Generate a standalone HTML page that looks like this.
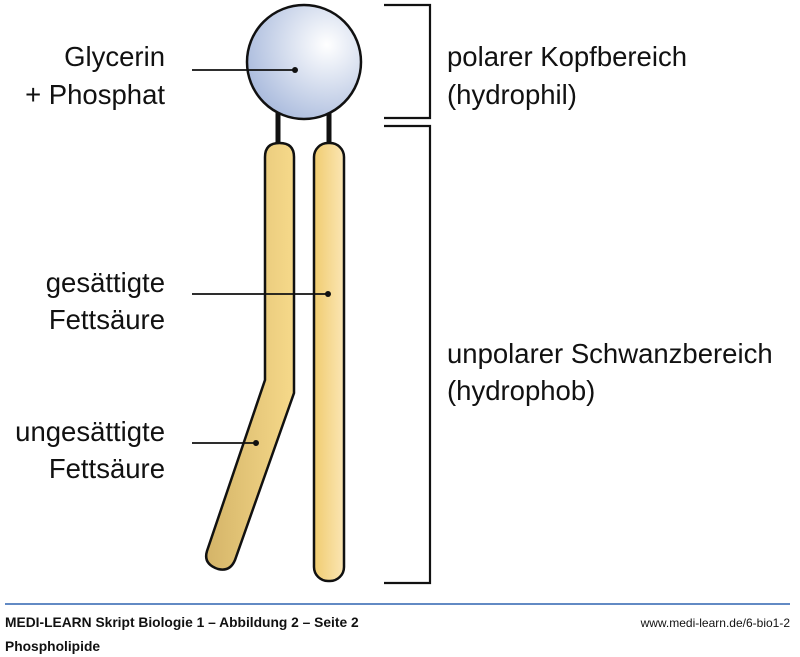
<!DOCTYPE html>
<html><head><meta charset="utf-8"><style>
body{margin:0;background:#fff;width:800px;height:657px;overflow:hidden;font-family:"Liberation Sans",sans-serif}
svg{position:absolute;left:0;top:0}
</style></head><body>
<svg width="800" height="657" viewBox="0 0 800 657">
<defs>
<radialGradient id="g1" cx="0.7" cy="0.35" r="0.75">
<stop offset="0" stop-color="#ffffff"/><stop offset="1" stop-color="#aabbdd"/></radialGradient>
<linearGradient id="g2" x1="0" x2="1"><stop offset="0" stop-color="#f0cc70"/><stop offset="1" stop-color="#fbe6b4"/></linearGradient>
<linearGradient id="g3" x1="0" x2="1"><stop offset="0" stop-color="#d4b468"/><stop offset="1" stop-color="#f6d98a"/></linearGradient>
</defs>
<line x1="278" y1="110" x2="278" y2="146" stroke="#111" stroke-width="5"/>
<line x1="329" y1="110" x2="329" y2="146" stroke="#111" stroke-width="5"/>
<circle cx="304" cy="62" r="57" fill="url(#g1)" stroke="#111" stroke-width="2.5"/>
<rect x="314" y="143" width="30" height="438" rx="14" fill="url(#g2)" stroke="#111" stroke-width="2.5"/>
<path d="M265 157 Q265 143 279.5 143 Q294 143 294 157 L294 393 L235 560 Q230 572 218 569 Q203 564 207 551 L265 380 Z" fill="url(#g3)" stroke="#111" stroke-width="2.5"/>
<path d="M384 5 H430 V118 H384 M384 126 H430 V583 H384" fill="none" stroke="#111" stroke-width="2.2"/>
<g stroke="#111" stroke-width="1.8"><line x1="192" y1="70" x2="295" y2="70"/><line x1="192" y1="294" x2="328" y2="294"/><line x1="192" y1="443" x2="256" y2="443"/></g>
<g fill="#111"><circle cx="295" cy="70" r="3"/><circle cx="328" cy="294" r="3"/><circle cx="256" cy="443" r="3"/></g>
<g font-size="27.5" fill="#111" text-anchor="end">
<text x="165" y="66">Glycerin</text><text x="165" y="104">+ Phosphat</text>
<text x="165" y="292">gesättigte</text><text x="165" y="329">Fettsäure</text>
<text x="165" y="441">ungesättigte</text><text x="165" y="478">Fettsäure</text>
</g>
<g font-size="27.5" fill="#111">
<text x="447" y="66">polarer Kopfbereich</text><text x="447" y="104">(hydrophil)</text>
<text x="447" y="363">unpolarer Schwanzbereich</text><text x="447" y="400">(hydrophob)</text>
</g>
<line x1="5" y1="604" x2="790" y2="604" stroke="#2e63b0" stroke-width="1.5"/>
<text x="5" y="627" font-size="13.8" font-weight="bold" fill="#111">MEDI-LEARN Skript Biologie 1 – Abbildung 2 – Seite 2</text>
<text x="5" y="651" font-size="13.8" font-weight="bold" fill="#111">Phospholipide</text>
<text x="790" y="627" font-size="12" fill="#111" text-anchor="end">www.medi-learn.de/6-bio1-2</text>
</svg>
</body></html>
